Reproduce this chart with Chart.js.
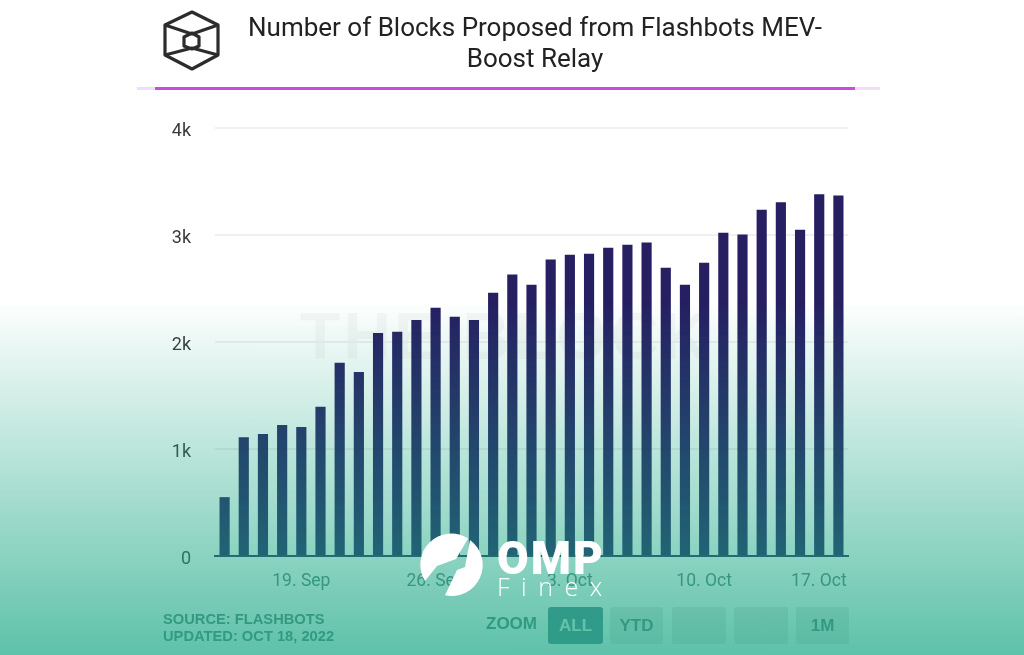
<!DOCTYPE html>
<html><head><meta charset="utf-8">
<script src="https://cdn.jsdelivr.net/npm/chart.js@4"></script>
<style>
html,body{margin:0;padding:0;background:#fff;width:1024px;height:655px;overflow:hidden}
#wrap{position:relative;width:1024px;height:655px;font-family:Roboto,sans-serif}
.abs{position:absolute}
#chart{position:absolute;left:0;top:0}
#title{left:200px;width:670px;top:12px;text-align:center;font:400 26px/31px Roboto,sans-serif;color:#222;}
#band{left:137px;top:87px;width:743px;height:3px;background:#f3dcfa}
#rule{left:155px;top:87px;width:700px;height:3px;background:#cb4be2}
#mark{left:300px;top:298px;font:700 66px "Liberation Sans",sans-serif;color:rgba(0,0,0,.03);letter-spacing:3px;white-space:nowrap}
#src{left:163px;top:611px;font:700 14.7px/17px "Liberation Sans",sans-serif;color:#5a7f78;white-space:nowrap}
.btn{position:absolute;top:607px;height:37px;border-radius:3px;background:#e6e6e6;color:#5a7f78;font:700 17px/37px "Liberation Sans",sans-serif;text-align:center}
#zoomlbl{left:486px;top:614px;font:700 17px "Liberation Sans",sans-serif;color:#53807a}
#overlay{left:0;top:0;width:1024px;height:655px;pointer-events:none;
background:linear-gradient(to bottom,rgba(28,168,134,0) 0,rgba(28,168,134,0) 300px,rgba(28,168,134,.71) 655px)}
#omp{left:497px;top:533px;font:900 46px/50px Roboto,sans-serif;color:#fff;letter-spacing:2px}
#finex{left:497px;top:569px;font:300 25px/34px "Open Sans",sans-serif;color:#fff;letter-spacing:11.5px}
</style></head><body>
<div id="wrap">
<div id="mark" class="abs">THE BLOCK</div>
<canvas id="chart" width="1024" height="655"></canvas>
<svg class="abs" style="left:160px;top:8px" width="64" height="66" viewBox="160 8 64 66" fill="none" stroke="#2c2c2c" stroke-width="3.2" stroke-linejoin="round">
<path d="M192 12L218 25V55L192 69L165 55V25Z"/>
<path d="M165 25L192 34L218 25M165 55L192 48L218 55"/>
<path d="M192 33L199 37V46L192 49L184 46V37Z"/>
</svg>
<div id="title" class="abs">Number of Blocks Proposed from Flashbots MEV-<br>Boost Relay</div>
<div id="band" class="abs"></div><div id="rule" class="abs"></div>
<div id="src" class="abs">SOURCE: FLASHBOTS<br>UPDATED: OCT 18, 2022</div>
<div id="zoomlbl" class="abs">ZOOM</div>
<div class="btn" style="left:548px;width:55px;background:#54838c;color:#e8f2ee">ALL</div>
<div class="btn" style="left:610px;width:53px">YTD</div>
<div class="btn" style="left:672px;width:54px"></div>
<div class="btn" style="left:734px;width:54px"></div>
<div class="btn" style="left:796px;width:53px">1M</div>
<div id="overlay" class="abs"></div>
<svg class="abs" style="left:415px;top:530px" width="75" height="72" viewBox="415 530 75 72" fill="#fff">
<path d="M468 538.5A31 31 0 0 0 425 581L437 566L456 559Z"/>
<path d="M445 595.3A31 31 0 0 0 470 540L465 567L457 570Z"/>
</svg>
<div id="omp" class="abs">OMP</div>
<div id="finex" class="abs">Finex</div>
</div>
<script>
const categories=["15. Sep","16. Sep","17. Sep","18. Sep","19. Sep","20. Sep","21. Sep","22. Sep","23. Sep","24. Sep","25. Sep","26. Sep","27. Sep","28. Sep","29. Sep","30. Sep","1. Oct","2. Oct","3. Oct","4. Oct","5. Oct","6. Oct","7. Oct","8. Oct","9. Oct","10. Oct","11. Oct","12. Oct","13. Oct","14. Oct","15. Oct","16. Oct","17. Oct"];
const blocks=[550,1110,1140,1225,1205,1395,1805,1720,2085,2095,2205,2320,2235,2205,2460,2630,2535,2770,2815,2825,2880,2910,2930,2695,2535,2740,3020,3005,3235,3305,3050,3380,3370];
const xTickLabels=["19. Sep","26. Sep","3. Oct","10. Oct","17. Oct"];
const yTickLabels=["0","1k","2k","3k","4k"];
new Chart(document.getElementById("chart"),{
 type:"bar",
 data:{labels:categories,datasets:[{data:blocks,backgroundColor:"#261f62",barPercentage:.53,categoryPercentage:1}]},
 options:{
  responsive:false,animation:false,
  layout:{padding:{left:0,right:176,top:128,bottom:0}},
  plugins:{legend:{display:false},tooltip:{enabled:false},title:{display:false}},
  scales:{
   x:{grid:{display:false,drawTicks:false},border:{display:true,color:"#23305f",width:2},
      afterFit(s){s.height=99},
      ticks:{autoSkip:false,maxRotation:0,minRotation:0,padding:15,color:"#5a7f78",font:{family:"Roboto",size:17.5},
        callback(v){const l=this.getLabelForValue(v);
          if(!xTickLabels.includes(l))return null;
          return l==="17. Oct"?l+"         ":l;}}},
   y:{min:0,max:4000,grid:{color:"#f0f0f0",lineWidth:2,drawTicks:false},border:{display:false},
      afterFit(s){s.width=215},
      ticks:{stepSize:1000,padding:24,color:"#3a3a3a",font:{family:"Roboto",size:18,lineHeight:.38},
        callback(v){return ["",yTickLabels[v/1000]]}}}
  }
 }
});
</script>
</body></html>
